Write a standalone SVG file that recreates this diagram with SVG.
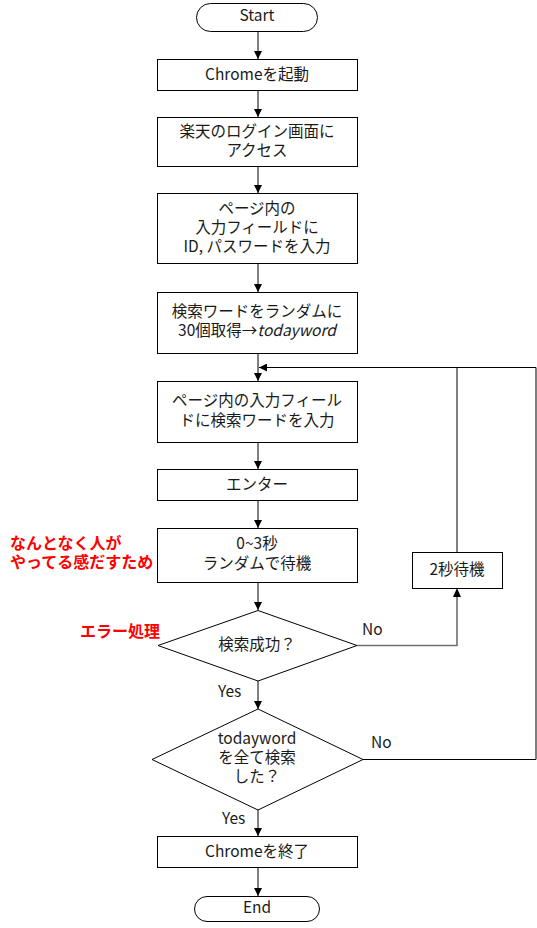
<svg xmlns="http://www.w3.org/2000/svg" width="537" height="928" viewBox="0 0 537 928">
<style>
.box{fill:#fff;stroke:#000;stroke-width:1}
.t{font-family:"Noto Sans CJK JP","Noto Sans",sans-serif;font-size:15.5px;fill:#1a1a1a;text-anchor:middle;dominant-baseline:central}
.l{font-family:"Noto Sans CJK JP","Noto Sans",sans-serif;font-size:15.5px;fill:#1a1a1a;dominant-baseline:central}
.r{font-family:"Noto Sans CJK JP",sans-serif;font-size:16px;font-weight:bold;fill:#ff0000;dominant-baseline:central}
.c{fill:none;stroke:#000;stroke-width:1}
.g{fill:none;stroke:#6e6e6e;stroke-width:1.6}
</style>
<defs>
<marker id="ah" markerUnits="userSpaceOnUse" markerWidth="8" markerHeight="8" refX="8" refY="4" orient="auto">
<path d="M0,0 L8,4 L0,8 z" fill="#000"/>
</marker>
</defs>
<rect width="537" height="928" fill="#fff"/>
<g id="connectors">
<line class="c" x1="258" y1="32" x2="258" y2="59" marker-end="url(#ah)"/>
<line class="c" x1="258" y1="90" x2="258" y2="117" marker-end="url(#ah)"/>
<line class="c" x1="258" y1="166" x2="258" y2="193" marker-end="url(#ah)"/>
<line class="c" x1="258" y1="264" x2="258" y2="292" marker-end="url(#ah)"/>
<line class="c" x1="258" y1="353" x2="258" y2="381" marker-end="url(#ah)"/>
<line class="c" x1="258" y1="442" x2="258" y2="469" marker-end="url(#ah)"/>
<line class="c" x1="258" y1="500" x2="258" y2="528" marker-end="url(#ah)"/>
<line class="c" x1="258" y1="582" x2="258" y2="610" marker-end="url(#ah)"/>
<line class="c" x1="258" y1="681" x2="258" y2="709" marker-end="url(#ah)"/>
<line class="c" x1="258" y1="810" x2="258" y2="836" marker-end="url(#ah)"/>
<line class="c" x1="258" y1="867" x2="258" y2="896" marker-end="url(#ah)"/>
<polyline class="g" points="357,645.5 457,645.5 457,596"/>
<path d="M453,597 L457,588 L461,597 z" fill="#000"/>
<polyline class="c" points="457,552 457,367.5 259,367.5" marker-end="url(#ah)"/>
<polyline class="c" points="363,759.5 536,759.5 536,367.5 457,367.5"/>
<text class="l" x="362" y="628">No</text>
<text class="l" x="371" y="741">No</text>
<text class="l" x="218" y="690">Yes</text>
<text class="l" x="222" y="817">Yes</text>
</g>
<g id="start">
<rect class="box" x="196.5" y="3.5" width="121" height="28" rx="14" ry="14"/>
<text class="t" x="257" y="14">Start</text>
</g>
<g id="launch">
<rect class="box" x="157.5" y="59.5" width="200" height="31"/>
<text class="t" x="257" y="73">Chromeを起動</text>
</g>
<g id="access">
<rect class="box" x="157.5" y="117.5" width="200" height="49"/>
<text class="t" x="257" y="130">楽天のログイン画面に</text>
<text class="t" x="257" y="149">アクセス</text>
</g>
<g id="login">
<rect class="box" x="157.5" y="193.5" width="200" height="70"/>
<text class="t" x="257" y="207">ページ内の</text>
<text class="t" x="257" y="226">入力フィールドに</text>
<text class="t" x="257" y="245">ID, パスワードを入力</text>
</g>
<g id="words">
<rect class="box" x="157.5" y="292.5" width="200" height="61"/>
<text class="t" x="257" y="310">検索ワードをランダムに</text>
<text class="t" x="257" y="329">30個取得→<tspan font-style="italic">todayword</tspan></text>
</g>
<g id="input">
<rect class="box" x="157.5" y="381.5" width="200" height="61"/>
<text class="t" x="257" y="399">ページ内の入力フィール</text>
<text class="t" x="257" y="419">ドに検索ワードを入力</text>
</g>
<g id="enter">
<rect class="box" x="157.5" y="469.5" width="200" height="31"/>
<text class="t" x="257" y="483">エンター</text>
</g>
<g id="wait">
<rect class="box" x="157.5" y="528.5" width="200" height="54"/>
<text class="t" x="257" y="542">0~3秒</text>
<text class="t" x="257" y="562">ランダムで待機</text>
</g>
<g id="wait2">
<rect class="box" x="412.5" y="552.5" width="90" height="36"/>
<text class="t" x="457" y="568">2秒待機</text>
</g>
<g id="success">
<polygon class="box" points="258,610.5 357,645.5 258,681 158,645.5"/>
<text class="t" x="257" y="643">検索成功？</text>
</g>
<g id="all">
<polygon class="box" points="258,709 363,759.5 258,810 152,759.5"/>
<text class="t" x="257" y="737">todayword</text>
<text class="t" x="257" y="756">を全て検索</text>
<text class="t" x="257" y="775">した？</text>
</g>
<g id="quit">
<rect class="box" x="157.5" y="836.5" width="200" height="31"/>
<text class="t" x="257" y="850">Chromeを終了</text>
</g>
<g id="end">
<rect class="box" x="194.5" y="896.5" width="125" height="25" rx="12.5" ry="12.5"/>
<text class="t" x="257" y="906">End</text>
</g>
<g id="notes">
<text class="r" x="10" y="542">なんとなく人が</text>
<text class="r" x="10" y="561">やってる感だすため</text>
<text class="r" x="80" y="630">エラー処理</text>
</g>
</svg>
